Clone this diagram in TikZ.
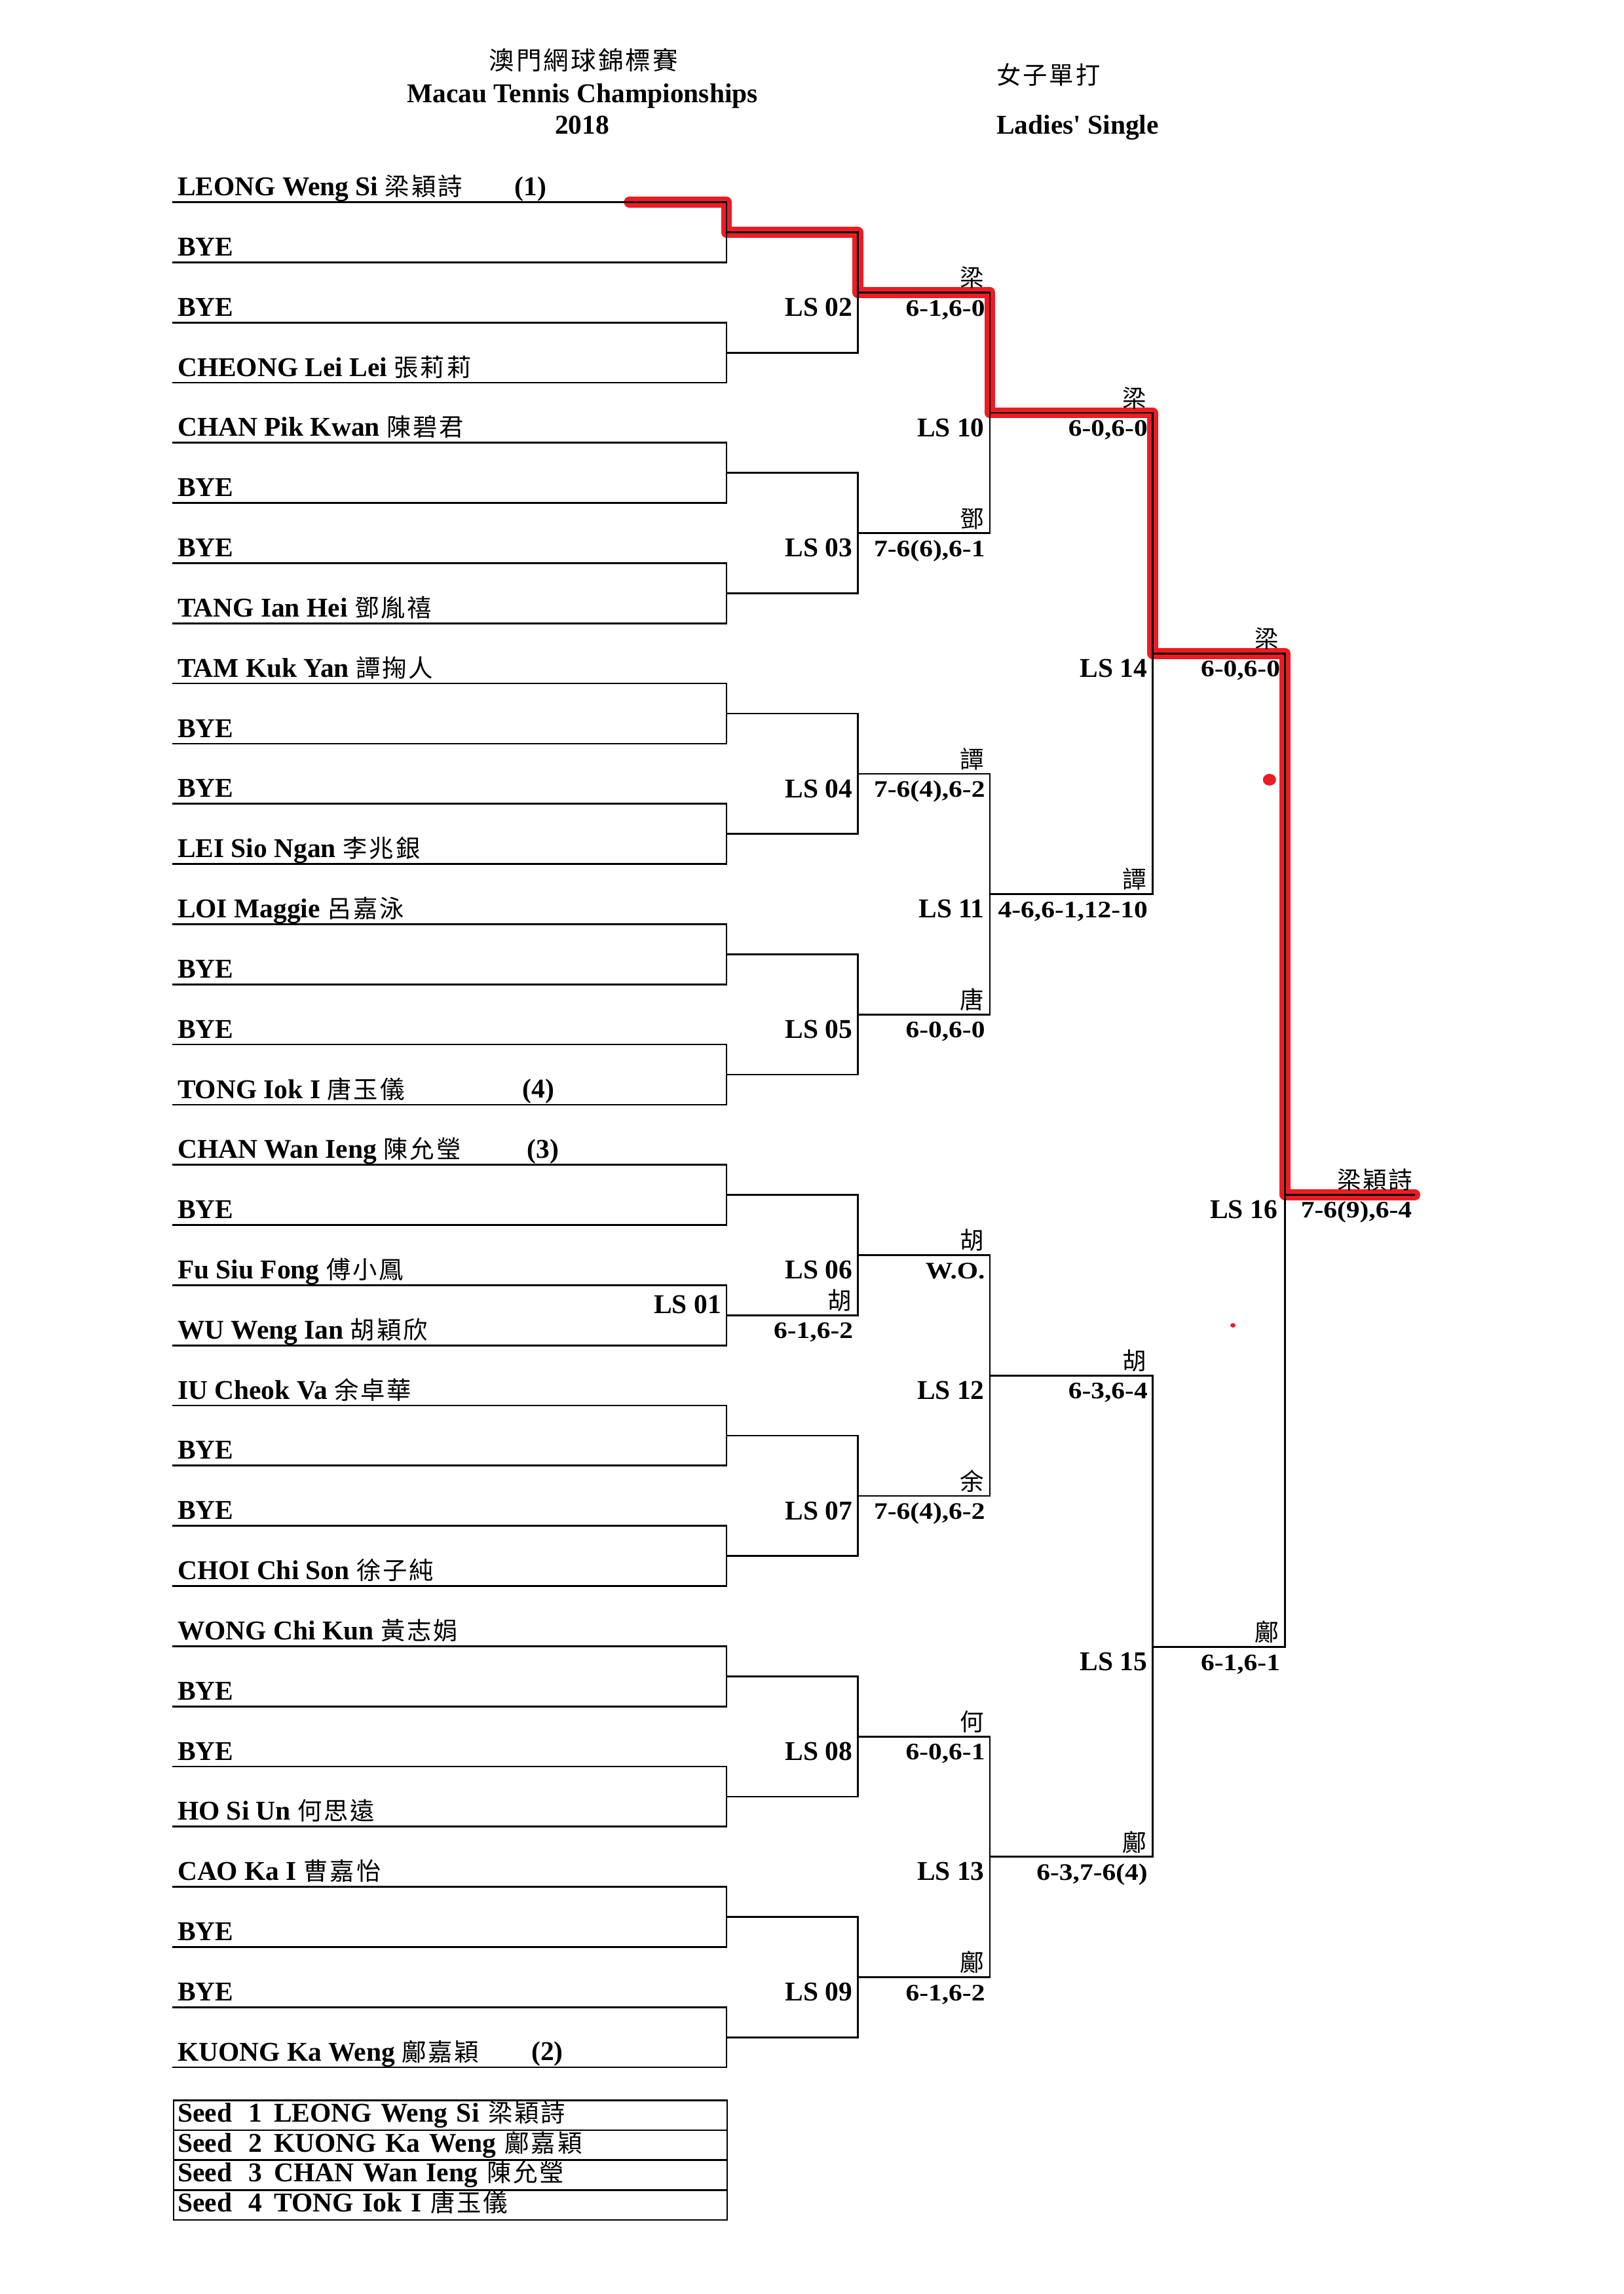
\documentclass[tikz,border=0pt]{standalone}
\usepackage{fontspec}
\setmainfont{Liberation Serif}
\newfontfamily\cjkfont{Noto Sans CJK TC}[LetterSpace=8]
\newfontfamily\scorefont{Liberation Serif}[FakeStretch=1.15]
\newcommand{\hanzi}[1]{{\cjkfont\mdseries\fontsize{9}{10}\selectfont #1}}
\definecolor{marker}{RGB}{237,28,36}

\begin{document}
\begin{tikzpicture}[
  x=0.018919cm, y=-0.018919cm,
  every node/.style={inner sep=0pt, font=\bfseries\fontsize{10}{12}\selectfont},
  player/.style={anchor=base west, xshift=1.8pt, yshift=2.4pt},
  seed/.style={anchor=base west},
  match/.style={anchor=base east, xshift=-1.8pt, yshift=-8.7pt},
  winner/.style={anchor=base east, xshift=-2pt, yshift=2.1pt,
                 font=\cjkfont\mdseries\fontsize{8.8}{10}\selectfont},
  result/.style={anchor=base east, xshift=-1.6pt, yshift=-8.6pt,
                 font=\scorefont\bfseries\fontsize{8.7}{10}\selectfont},
  bracket/.style={line width=0.65pt},
  highlight/.style={draw=marker, line width=4pt, line cap=round, line join=round,
                    xshift=0.7pt, yshift=-0.4pt},
  seedrow/.style={draw, line width=0.6pt, anchor=north west, text width=200.7pt,
                  align=left, inner xsep=1.5pt, inner ysep=0pt,
                  text height=8pt, text depth=3pt}
]
  \useasboundingbox (0,0) rectangle (1110,1568.2);

  % heading
  \node[anchor=base, font=\cjkfont\mdseries\fontsize{9.3}{10}\selectfont] (zhtitle) at (399,47.9) {澳門網球錦標賽};
  \node[anchor=base] (entitle) at (398.3,70.3) {Macau Tennis Championships};
  \node[anchor=base] (year) at (398,91.8) {2018};
  \node[anchor=base west, font=\cjkfont\mdseries\fontsize{9}{10}\selectfont] (zhevent) at (681,57.6) {女子單打};
  \node[anchor=base west] (event) at (681,91.4) {Ladies\textquotesingle\ Single};

  % draw positions
  \coordinate (a0)  at (117.7,138.2);
  \coordinate (a1)  at (117.7,179.3);
  \coordinate (a2)  at (117.7,220.5);
  \coordinate (a3)  at (117.7,261.6);
  \coordinate (a4)  at (117.7,302.7);
  \coordinate (a5)  at (117.7,343.9);
  \coordinate (a6)  at (117.7,385.0);
  \coordinate (a7)  at (117.7,426.1);
  \coordinate (a8)  at (117.7,467.2);
  \coordinate (a9)  at (117.7,508.4);
  \coordinate (a10) at (117.7,549.5);
  \coordinate (a11) at (117.7,590.6);
  \coordinate (a12) at (117.7,631.8);
  \coordinate (a13) at (117.7,672.9);
  \coordinate (a14) at (117.7,714.0);
  \coordinate (a15) at (117.7,755.2);
  \coordinate (a16) at (117.7,796.3);
  \coordinate (a17) at (117.7,837.4);
  \coordinate (a18) at (117.7,878.5);
  \coordinate (a19) at (117.7,919.7);
  \coordinate (a20) at (117.7,960.8);
  \coordinate (a21) at (117.7,1001.9);
  \coordinate (a22) at (117.7,1043.1);
  \coordinate (a23) at (117.7,1084.2);
  \coordinate (a24) at (117.7,1125.3);
  \coordinate (a25) at (117.7,1166.5);
  \coordinate (a26) at (117.7,1207.6);
  \coordinate (a27) at (117.7,1248.7);
  \coordinate (a28) at (117.7,1289.8);
  \coordinate (a29) at (117.7,1331.0);
  \coordinate (a30) at (117.7,1372.1);
  \coordinate (a31) at (117.7,1413.2);

  % first round junctions
  \coordinate (r0)  at (496.8,158.8);
  \coordinate (r1)  at (496.8,241.1);
  \coordinate (r2)  at (496.8,323.3);
  \coordinate (r3)  at (496.8,405.6);
  \coordinate (r4)  at (496.8,487.8);
  \coordinate (r5)  at (496.8,570.1);
  \coordinate (r6)  at (496.8,652.4);
  \coordinate (r7)  at (496.8,734.6);
  \coordinate (r8)  at (496.8,816.9);
  \coordinate (r9)  at (496.8,899.1);
  \coordinate (r10) at (496.8,981.4);
  \coordinate (r11) at (496.8,1063.7);
  \coordinate (r12) at (496.8,1145.9);
  \coordinate (r13) at (496.8,1228.2);
  \coordinate (r14) at (496.8,1310.4);
  \coordinate (r15) at (496.8,1392.7);

  % match junctions
  \coordinate (j02) at (586.6,200.0);
  \coordinate (j03) at (586.6,364.5);
  \coordinate (j04) at (586.6,529.0);
  \coordinate (j05) at (586.6,693.5);
  \coordinate (j06) at (586.6,858.0);
  \coordinate (j07) at (586.6,1022.6);
  \coordinate (j08) at (586.6,1187.1);
  \coordinate (j09) at (586.6,1351.6);
  \coordinate (j10) at (676.8,282.2);
  \coordinate (j11) at (676.8,611.2);
  \coordinate (j12) at (676.8,940.3);
  \coordinate (j13) at (676.8,1269.3);
  \coordinate (j14) at (788,446.7);
  \coordinate (j15) at (788,1125.8);
  \coordinate (j16) at (878.6,816.7);
  \coordinate (champ) at (967.4,816.7);
  \coordinate (hl) at (430.3,138.2);

  % marker pen over the champion's way
  \draw[highlight] (hl) -| (r0) -| (j02) -| (j10) -| (j14) -| (j16) -- (champ);
  \fill[marker] (868,533) ellipse (4.5 and 4);
  \fill[marker] (843,906) ellipse (1.8 and 1.5);

  % players
  \node[player] (p0)  at (a0)  {LEONG Weng Si \hanzi{梁穎詩}};
  \node[player] (p1)  at (a1)  {BYE};
  \node[player] (p2)  at (a2)  {BYE};
  \node[player] (p3)  at (a3)  {CHEONG Lei Lei \hanzi{張莉莉}};
  \node[player] (p4)  at (a4)  {CHAN Pik Kwan \hanzi{陳碧君}};
  \node[player] (p5)  at (a5)  {BYE};
  \node[player] (p6)  at (a6)  {BYE};
  \node[player] (p7)  at (a7)  {TANG Ian Hei \hanzi{鄧胤禧}};
  \node[player] (p8)  at (a8)  {TAM Kuk Yan \hanzi{譚掬人}};
  \node[player] (p9)  at (a9)  {BYE};
  \node[player] (p10) at (a10) {BYE};
  \node[player] (p11) at (a11) {LEI Sio Ngan \hanzi{李兆銀}};
  \node[player] (p12) at (a12) {LOI Maggie \hanzi{呂嘉泳}};
  \node[player] (p13) at (a13) {BYE};
  \node[player] (p14) at (a14) {BYE};
  \node[player] (p15) at (a15) {TONG Iok I \hanzi{唐玉儀}};
  \node[player] (p16) at (a16) {CHAN Wan Ieng \hanzi{陳允瑩}};
  \node[player] (p17) at (a17) {BYE};
  \node[player] (p18) at (a18) {Fu Siu Fong \hanzi{傅小鳳}};
  \node[player] (p19) at (a19) {WU Weng Ian \hanzi{胡穎欣}};
  \node[player] (p20) at (a20) {IU Cheok Va \hanzi{余卓華}};
  \node[player] (p21) at (a21) {BYE};
  \node[player] (p22) at (a22) {BYE};
  \node[player] (p23) at (a23) {CHOI Chi Son \hanzi{徐子純}};
  \node[player] (p24) at (a24) {WONG Chi Kun \hanzi{黃志娟}};
  \node[player] (p25) at (a25) {BYE};
  \node[player] (p26) at (a26) {BYE};
  \node[player] (p27) at (a27) {HO Si Un \hanzi{何思遠}};
  \node[player] (p28) at (a28) {CAO Ka I \hanzi{曹嘉怡}};
  \node[player] (p29) at (a29) {BYE};
  \node[player] (p30) at (a30) {BYE};
  \node[player] (p31) at (a31) {KUONG Ka Weng \hanzi{鄺嘉穎}};

  \node[seed] (sd1) at (351.6,133.7)  {(1)};
  \node[seed] (sd4) at (357,750.7)    {(4)};
  \node[seed] (sd3) at (360,791.8)    {(3)};
  \node[seed] (sd2) at (363,1408.7)   {(2)};

  % first round
  \draw[bracket] (a0)  -| (r0)  |- (a1);
  \draw[bracket] (a2)  -| (r1)  |- (a3);
  \draw[bracket] (a4)  -| (r2)  |- (a5);
  \draw[bracket] (a6)  -| (r3)  |- (a7);
  \draw[bracket] (a8)  -| (r4)  |- (a9);
  \draw[bracket] (a10) -| (r5)  |- (a11);
  \draw[bracket] (a12) -| (r6)  |- (a13);
  \draw[bracket] (a14) -| (r7)  |- (a15);
  \draw[bracket] (a16) -| (r8)  |- (a17);
  \draw[bracket] (a18) -| (r9)  |- (a19);
  \draw[bracket] (a20) -| (r10) |- (a21);
  \draw[bracket] (a22) -| (r11) |- (a23);
  \draw[bracket] (a24) -| (r12) |- (a25);
  \draw[bracket] (a26) -| (r13) |- (a27);
  \draw[bracket] (a28) -| (r14) |- (a29);
  \draw[bracket] (a30) -| (r15) |- (a31);

  % later rounds
  \draw[bracket] (r0)  -| (j02) |- (r1);
  \draw[bracket] (r2)  -| (j03) |- (r3);
  \draw[bracket] (r4)  -| (j04) |- (r5);
  \draw[bracket] (r6)  -| (j05) |- (r7);
  \draw[bracket] (r8)  -| (j06) |- (r9);
  \draw[bracket] (r10) -| (j07) |- (r11);
  \draw[bracket] (r12) -| (j08) |- (r13);
  \draw[bracket] (r14) -| (j09) |- (r15);
  \draw[bracket] (j02) -| (j10) |- (j03);
  \draw[bracket] (j04) -| (j11) |- (j05);
  \draw[bracket] (j06) -| (j12) |- (j07);
  \draw[bracket] (j08) -| (j13) |- (j09);
  \draw[bracket] (j10) -| (j14) |- (j11);
  \draw[bracket] (j12) -| (j15) |- (j13);
  \draw[bracket] (j14) -| (j16) |- (j15);
  \draw[bracket] (j16) -- (champ);

  % match numbers
  \node[match, yshift=9.3pt] (ls01) at (r9) {LS 01};
  \node[match] (ls02) at (j02) {LS 02};
  \node[match] (ls03) at (j03) {LS 03};
  \node[match] (ls04) at (j04) {LS 04};
  \node[match] (ls05) at (j05) {LS 05};
  \node[match] (ls06) at (j06) {LS 06};
  \node[match] (ls07) at (j07) {LS 07};
  \node[match] (ls08) at (j08) {LS 08};
  \node[match] (ls09) at (j09) {LS 09};
  \node[match] (ls10) at (j10) {LS 10};
  \node[match] (ls11) at (j11) {LS 11};
  \node[match] (ls12) at (j12) {LS 12};
  \node[match] (ls13) at (j13) {LS 13};
  \node[match] (ls14) at (j14) {LS 14};
  \node[match] (ls15) at (j15) {LS 15};
  \node[match, xshift=-0.8pt] (ls16) at (j16) {LS 16};

  % winners and scores
  \node[winner] (w01) at (r9 -| j06)  {胡};   \node[result] (s01) at (r9 -| j06)  {6-1,6-2};
  \node[winner] (w02) at (j02 -| j10) {梁};   \node[result] (s02) at (j02 -| j10) {6-1,6-0};
  \node[winner] (w03) at (j03 -| j10) {鄧};   \node[result] (s03) at (j03 -| j10) {7-6(6),6-1};
  \node[winner] (w04) at (j04 -| j11) {譚};   \node[result] (s04) at (j04 -| j11) {7-6(4),6-2};
  \node[winner] (w05) at (j05 -| j11) {唐};   \node[result] (s05) at (j05 -| j11) {6-0,6-0};
  \node[winner] (w06) at (j06 -| j12) {胡};   \node[result] (s06) at (j06 -| j12) {W.O.};
  \node[winner] (w07) at (j07 -| j12) {余};   \node[result] (s07) at (j07 -| j12) {7-6(4),6-2};
  \node[winner] (w08) at (j08 -| j13) {何};   \node[result] (s08) at (j08 -| j13) {6-0,6-1};
  \node[winner] (w09) at (j09 -| j13) {鄺};   \node[result] (s09) at (j09 -| j13) {6-1,6-2};
  \node[winner] (w10) at (j10 -| j14) {梁};   \node[result] (s10) at (j10 -| j14) {6-0,6-0};
  \node[winner] (w11) at (j11 -| j14) {譚};   \node[result] (s11) at (j11 -| j14) {4-6,6-1,12-10};
  \node[winner] (w12) at (j12 -| j15) {胡};   \node[result] (s12) at (j12 -| j15) {6-3,6-4};
  \node[winner] (w13) at (j13 -| j15) {鄺};   \node[result] (s13) at (j13 -| j15) {6-3,7-6(4)};
  \node[winner] (w14) at (j14 -| j16) {梁};   \node[result] (s14) at (j14 -| j16) {6-0,6-0};
  \node[winner] (w15) at (j15 -| j16) {鄺};   \node[result] (s15) at (j15 -| j16) {6-1,6-1};
  \node[winner, xshift=1.4pt] (w16) at (champ) {梁穎詩};
  \node[result, xshift=0.7pt] (s16) at (champ) {7-6(9),6-4};

  % seeding
  \node[seedrow] (seed1) at (118.2,1435.2) {Seed\hspace{0.62em}1\hspace{0.42em}LEONG Weng Si \hanzi{梁穎詩}};
  \node[seedrow] (seed2) at (118.2,1455.6) {Seed\hspace{0.62em}2\hspace{0.42em}KUONG Ka Weng \hanzi{鄺嘉穎}};
  \node[seedrow] (seed3) at (118.2,1476.1) {Seed\hspace{0.62em}3\hspace{0.42em}CHAN Wan Ieng \hanzi{陳允瑩}};
  \node[seedrow] (seed4) at (118.2,1496.6) {Seed\hspace{0.62em}4\hspace{0.42em}TONG Iok I \hanzi{唐玉儀}};
\end{tikzpicture}
\end{document}
